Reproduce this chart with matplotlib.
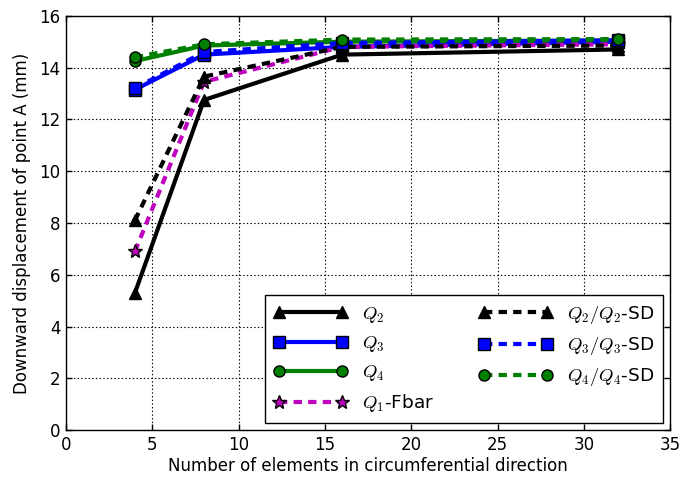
import matplotlib
matplotlib.use("Agg")
import matplotlib.pyplot as plt

plt.rcParams['mathtext.fontset'] = 'cm'
plt.rcParams['font.family'] = ['DejaVu Sans']
plt.rcParams['lines.scale_dashes'] = False
plt.rcParams['lines.dashed_pattern'] = [6, 4.5]

n_elements = [4, 8, 16, 32]

q2 = [5.3, 12.75, 14.5, 14.7]
q3 = [13.15, 14.5, 14.8, 15.0]
q4 = [14.25, 14.85, 15.0, 15.05]
q1_fbar = [6.9, 13.45, 14.8, 14.9]
q2_sd = [8.1, 13.65, 14.8, 14.85]
q3_sd = [13.2, 14.6, 14.95, 15.05]
q4_sd = [14.4, 14.9, 15.08, 15.1]

fig = plt.figure(figsize=(6.86, 4.78), dpi=100)
ax = fig.add_axes([0.096, 0.100, 0.881, 0.867])

lw = 3
ms = 8
ax.plot(n_elements, q2, '-', color='k', marker='^', lw=lw, ms=ms, label='$Q_2$')
ax.plot(n_elements, q3, '-', color='b', marker='s', lw=lw, ms=ms, mec='k', label='$Q_3$')
ax.plot(n_elements, q4, '-', color='g', marker='o', lw=lw, ms=ms, mec='k', label='$Q_4$')
ax.plot(n_elements, q1_fbar, '--', color='m', marker='*', lw=lw, ms=ms + 2, mec='k', label='$Q_1$-Fbar')
ax.plot(n_elements, q2_sd, '--', color='k', marker='^', lw=lw, ms=ms, label='$Q_2/Q_2$-SD')
ax.plot(n_elements, q3_sd, '--', color='b', marker='s', lw=lw, ms=ms, mec='k', label='$Q_3/Q_3$-SD')
ax.plot(n_elements, q4_sd, '--', color='g', marker='o', lw=lw, ms=ms, mec='k', label='$Q_4/Q_4$-SD')

ax.set_xlim(0, 35)
ax.set_ylim(0, 16)
ax.set_xticks(range(0, 36, 5))
ax.set_yticks(range(0, 17, 2))
ax.tick_params(direction='in', top=True, right=True, labelsize=12, length=4, width=1, pad=4)
ax.grid(True, linestyle=':', color='k', linewidth=0.8)
for s in ax.spines.values():
    s.set_linewidth(1)

ax.set_xlabel('Number of elements in circumferential direction', fontsize=12, labelpad=2)
ax.set_ylabel('Downward displacement of point A (mm)', fontsize=12, labelpad=6)

leg = ax.legend(loc='lower right', ncol=2, numpoints=2, fontsize=13.3, fancybox=False,
                framealpha=1, edgecolor='k', handlelength=4, columnspacing=2.4,
                borderpad=0.45, borderaxespad=0.4)
leg.get_frame().set_linewidth(1)

fig.savefig('out.png', dpi=100)
